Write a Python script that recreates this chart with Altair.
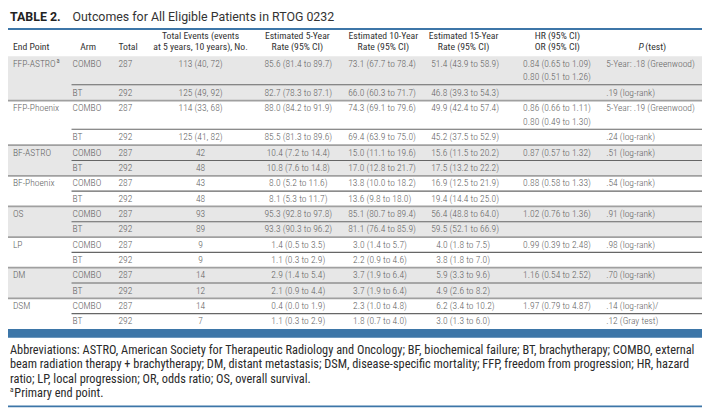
import altair as alt
import pandas as pd

endpoints = ["FFP-ASTRO", "FFP-Phoenix", "BF-ASTRO", "BF-Phoenix", "OS", "LP", "DM", "DSM"]
arms = ["COMBO", "BT"]
totals = [287, 292]
events = ["113 (40, 72)", "125 (49, 92)", "114 (33, 68)", "125 (41, 82)",
          "42", "48", "43", "48", "93", "89", "9", "9", "14", "12", "14", "7"]
rate5 = ["85.6 (81.4 to 89.7)", "82.7 (78.3 to 87.1)", "88.0 (84.2 to 91.9)", "85.5 (81.3 to 89.6)",
         "10.4 (7.2 to 14.4)", "10.8 (7.6 to 14.8)", "8.0 (5.2 to 11.6)", "8.1 (5.3 to 11.7)",
         "95.3 (92.8 to 97.8)", "93.3 (90.3 to 96.2)", "1.4 (0.5 to 3.5)", "1.1 (0.3 to 2.9)",
         "2.9 (1.4 to 5.4)", "2.1 (0.9 to 4.4)", "0.4 (0.0 to 1.9)", "1.1 (0.3 to 2.9)"]
rate10 = ["73.1 (67.7 to 78.4)", "66.0 (60.3 to 71.7)", "74.3 (69.1 to 79.6)", "69.4 (63.9 to 75.0)",
          "15.0 (11.1 to 19.6)", "17.0 (12.8 to 21.7)", "13.8 (10.0 to 18.2)", "13.6 (9.8 to 18.0)",
          "85.1 (80.7 to 89.4)", "81.1 (76.4 to 85.9)", "3.0 (1.4 to 5.7)", "2.2 (0.9 to 4.6)",
          "3.7 (1.9 to 6.4)", "3.7 (1.9 to 6.4)", "2.3 (1.0 to 4.8)", "1.8 (0.7 to 4.0)"]
rate15 = ["51.4 (43.9 to 58.9)", "46.8 (39.3 to 54.3)", "49.9 (42.4 to 57.4)", "45.2 (37.5 to 52.9)",
          "15.6 (11.5 to 20.2)", "17.5 (13.2 to 22.2)", "16.9 (12.5 to 21.9)", "19.4 (14.4 to 25.0)",
          "56.4 (48.8 to 64.0)", "59.5 (52.1 to 66.9)", "4.0 (1.8 to 7.5)", "3.8 (1.8 to 7.0)",
          "5.9 (3.3 to 9.6)", "4.9 (2.6 to 8.2)", "6.2 (3.4 to 10.2)", "3.0 (1.3 to 6.0)"]
hr_or = [["0.84 (0.65 to 1.09)", "0.80 (0.51 to 1.26)"],
         ["0.86 (0.66 to 1.11)", "0.80 (0.49 to 1.30)"],
         ["0.87 (0.57 to 1.32)"], ["0.88 (0.58 to 1.33)"], ["1.02 (0.76 to 1.36)"],
         ["0.99 (0.39 to 2.48)"], ["1.16 (0.54 to 2.52)"], ["1.97 (0.79 to 4.87)"]]
pvals = ["5-Year: .18 (Greenwood)", ".19 (log-rank)", "5-Year: .19 (Greenwood)", ".24 (log-rank)",
         ".51 (log-rank)", "", ".54 (log-rank)", "", ".91 (log-rank)", "", ".98 (log-rank)", "",
         ".70 (log-rank)", "", ".14 (log-rank)/", ".12 (Gray test)"]
shaded = [True, False, True, False, True, False, True, False]

title_bold = "TABLE 2."
title_text = "Outcomes for All Eligible Patients in RTOG 0232"
header_two = [("Total Events (events", "at 5 years, 10 years), No."),
              ("Estimated 5-Year", "Rate (95% CI)"),
              ("Estimated 10-Year", "Rate (95% CI)"),
              ("Estimated 15-Year", "Rate (95% CI)"),
              ("HR (95% CI)", "OR (95% CI)")]
footnotes = [
    "Abbreviations: ASTRO, American Society for Therapeutic Radiology and Oncology; BF, biochemical failure; BT, brachytherapy; COMBO, external",
    "beam radiation therapy + brachytherapy; DM, distant metastasis; DSM, disease-specific mortality; FFP, freedom from progression; HR, hazard",
    "ratio; LP, local progression; OR, odds ratio; OS, overall survival.",
]
footnote_a = "Primary end point."
sup_mark = "a"

# ---------------- layout (reference pixel space 710 x 413) ----------------
W, H = 700, 403
REF_W, REF_H = 710, 413
BLUE = "#3d76a8"
BAND = "#e7e7e7"
BODY = "#626262"
HEAD = "#333333"
COND = "Roboto Condensed, Liberation Sans Narrow, Roboto"
BODY_SIZE = 9.6
HEAD_SIZE = 9.8

body_top, body_bottom = 48, 330
ffp_combo_h, ffp_bt_h = 29.5, 16.5
single_h = (body_bottom - body_top - 2 * (ffp_combo_h + ffp_bt_h)) / 12.0

row_h = []
for g in range(len(endpoints)):
    row_h += [ffp_combo_h, ffp_bt_h] if g < 2 else [single_h, single_h]
row_top = [body_top]
for h in row_h[:-1]:
    row_top.append(row_top[-1] + h)

def row_mid(r):
    if r in (0, 2):
        return row_top[r] + 8
    return row_top[r] + row_h[r] / 2

col_end, col_arm, col_total, col_events = 5, 66, 113, 197
col_r5, col_r10, col_r15, col_hr, col_p = 297, 348, 433, 527, 612
digit_w = 5.0

def int_digits(s):
    return len(s.split(".")[0])

xs = alt.Scale(domain=[0, REF_W], range=[0, W], nice=False, zero=False)
ys = alt.Scale(domain=[0, REF_H], range=[0, H], nice=False, zero=False)

# ---------- background bands ----------
bands = []
for g, sh in enumerate(shaded):
    if sh:
        r0 = 2 * g
        bands.append({"x": 0, "x2": REF_W, "y": row_top[r0], "y2": row_top[r0] + row_h[r0] + row_h[r0 + 1], "c": BAND})
bands.append({"x": 0, "x2": REF_W, "y": body_bottom, "y2": body_bottom + 9, "c": BLUE})
bands_df = pd.DataFrame(bands)
band_layer = alt.Chart(bands_df).mark_rect().encode(
    x=alt.X("x:Q", scale=xs, axis=None), x2="x2:Q",
    y=alt.Y("y:Q", scale=ys, axis=None), y2="y2:Q",
    color=alt.Color("c:N", scale=None))

# ---------- rules ----------
rules = [{"x": 0, "x2": REF_W, "y": 20, "sw": 2, "c": BLUE},
         {"x": 0, "x2": REF_W, "y": 410, "sw": 2, "c": BLUE}]
for g in range(1, len(endpoints)):
    rules.append({"x": 0, "x2": REF_W, "y": row_top[2 * g], "sw": 1.8, "c": "#a0a0a0"})
for g in range(len(endpoints)):
    rules.append({"x": col_arm - 1, "x2": REF_W, "y": row_top[2 * g + 1], "sw": 1.1, "c": "#666666"})
rules_df = pd.DataFrame(rules)
rule_layer = alt.Chart(rules_df).mark_rule().encode(
    x=alt.X("x:Q", scale=xs, axis=None), x2="x2:Q",
    y=alt.Y("y:Q", scale=ys, axis=None),
    strokeWidth=alt.StrokeWidth("sw:Q", scale=None),
    color=alt.Color("c:N", scale=None))

# ---------- body texts ----------
left_items, center_items = [], []
for g, ep in enumerate(endpoints):
    left_items.append({"x": col_end, "y": row_mid(2 * g), "t": ep})
    for lineno, s in enumerate(hr_or[g]):
        left_items.append({"x": col_hr, "y": row_mid(2 * g) + 14 * lineno, "t": s})
for r in range(len(events)):
    y = row_mid(r)
    left_items.append({"x": col_arm, "y": y, "t": arms[r % 2]})
    left_items.append({"x": col_total, "y": y, "t": str(totals[r % 2])})
    center_items.append({"x": col_events, "y": y, "t": events[r]})
    center_items.append({"x": col_r5, "y": y, "t": rate5[r]})
    left_items.append({"x": col_r10 + (2 - int_digits(rate10[r])) * digit_w, "y": y, "t": rate10[r]})
    left_items.append({"x": col_r15 + (2 - int_digits(rate15[r])) * digit_w, "y": y, "t": rate15[r]})
    if pvals[r]:
        left_items.append({"x": col_p, "y": y, "t": pvals[r]})

def text_layer(items, align, size, color, weight="normal", style="normal", font=COND):
    df = pd.DataFrame(items)
    return alt.Chart(df).mark_text(align=align, baseline="middle", font=font, fontSize=size,
                                   color=color, fontWeight=weight, fontStyle=style).encode(
        x=alt.X("x:Q", scale=xs, axis=None),
        y=alt.Y("y:Q", scale=ys, axis=None),
        text="t:N")

body_left = text_layer(left_items, "left", BODY_SIZE, BODY, weight=300)
body_center = text_layer(center_items, "center", BODY_SIZE, BODY, weight=300)
sup_body = text_layer([{"x": 49.5, "y": row_mid(0) - 2.5, "t": sup_mark}], "left", 6.5, BODY)

# ---------- header ----------
head_centers = [col_events, 296, 384, 466, 562]
head_c = [{"x": 82, "y": 39, "t": "Arm"}]
for cx, (l1, l2) in zip(head_centers, header_two):
    head_c.append({"x": cx, "y": 27.5, "t": l1})
    head_c.append({"x": cx, "y": 39, "t": l2})
head_l = [{"x": col_end, "y": 39, "t": "End Point"},
          {"x": col_total, "y": 39, "t": "Total"},
          {"x": 652, "y": 39, "t": "(test)"}]
head_center_layer = text_layer(head_c, "center", HEAD_SIZE, HEAD)
head_left_layer = text_layer(head_l, "left", HEAD_SIZE, HEAD)
head_p = text_layer([{"x": 645, "y": 39, "t": "P"}], "left", HEAD_SIZE, HEAD, style="italic")

# ---------- title ----------
title_b = text_layer([{"x": 2, "y": 8, "t": title_bold}], "left", 12.5, "#222222", weight="bold", font="Roboto")
title_r = text_layer([{"x": 66, "y": 8, "t": title_text}], "left", 12.5, "#333333", font="Roboto")

# ---------- footnotes ----------
FOOT_SIZE = 12.45
foot_items = [{"x": 2, "y": 352 + 14.7 * i, "t": s} for i, s in enumerate(footnotes)]
foot_items.append({"x": 6.5, "y": 352 + 14.7 * 3, "t": footnote_a})
foot_layer = text_layer(foot_items, "left", FOOT_SIZE, "#2a2a2a")
foot_sup = text_layer([{"x": 2, "y": 352 + 14.7 * 3 - 3, "t": sup_mark}], "left", 7.5, "#2a2a2a")

chart = alt.layer(band_layer, rule_layer, body_left, body_center, sup_body,
                  head_center_layer, head_left_layer, head_p,
                  title_b, title_r, foot_layer, foot_sup).properties(
    width=W, height=H, padding=0,
    autosize=alt.AutoSizeParams(type="none")
).configure_view(stroke=None)

chart.save("out.html", embed_options={"renderer": "svg", "actions": False})
